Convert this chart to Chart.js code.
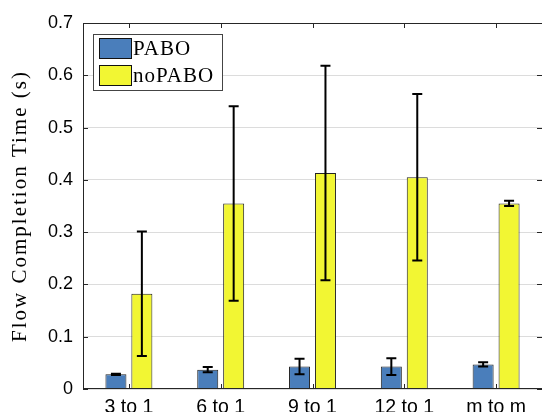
<!DOCTYPE html>
<html>
<head>
<meta charset="utf-8">
<script src="https://cdn.jsdelivr.net/npm/chart.js@4"></script>
<style>
  html, body { margin: 0; padding: 0; background: #fff; }
  #wrap { width: 543px; height: 412px; }
</style>
</head>
<body>
<div id="wrap"><canvas id="fct"></canvas></div>
<script>
// Flow completion time per traffic pattern, mean and spread
const categories = ['3 to 1', '6 to 1', '9 to 1', '12 to 1', 'm to m'];
const paboMean = [0.028, 0.037, 0.043, 0.043, 0.047];
const paboErr = [0.001, 0.005, 0.015, 0.016, 0.004];
const noPaboMean = [0.182, 0.355, 0.413, 0.405, 0.355];
const noPaboErr = [0.119, 0.186, 0.205, 0.159, 0.005];
const yTicks = [0, 0.1, 0.2, 0.3, 0.4, 0.5, 0.6, 0.7];
const yTitle = 'Flow Completion Time (s)';

const BLUE = '#4a7ebb';
const YELLOW = '#f2f633';
const AXIS = '#262626';
const SERIF = '"Liberation Serif", "Times New Roman", serif';
const SANS = '"Liberation Sans", Arial, sans-serif';

// error bars on top of each bar
const errorBars = {
    id: 'errorBars',
    afterDatasetsDraw(chart) {
        const { ctx, scales: { y } } = chart;
        const errs = [paboErr, noPaboErr];
        ctx.save();
        ctx.strokeStyle = '#000';
        ctx.lineWidth = 2;
        chart.data.datasets.forEach((ds, i) => {
            chart.getDatasetMeta(i).data.forEach((bar, j) => {
                const top = y.getPixelForValue(ds.data[j] + errs[i][j]);
                const bot = y.getPixelForValue(ds.data[j] - errs[i][j]);
                ctx.beginPath();
                ctx.moveTo(bar.x, top); ctx.lineTo(bar.x, bot);
                ctx.moveTo(bar.x - 5, top); ctx.lineTo(bar.x + 5, top);
                ctx.moveTo(bar.x - 5, bot); ctx.lineTo(bar.x + 5, bot);
                ctx.stroke();
            });
        });
        ctx.restore();
    }
};

// box outline, inward ticks, y title and the legend inside the plot
const frame = {
    id: 'frame',
    afterDraw(chart) {
        const { ctx, chartArea: a, scales: { x, y } } = chart;
        ctx.save();
        ctx.strokeStyle = AXIS;
        ctx.lineWidth = 1;
        ctx.beginPath();
        ctx.moveTo(a.left, a.top + 0.5); ctx.lineTo(a.right, a.top + 0.5);
        ctx.moveTo(a.left + 0.5, a.top); ctx.lineTo(a.left + 0.5, a.bottom);
        ctx.moveTo(a.left, a.bottom - 0.5); ctx.lineTo(a.right, a.bottom - 0.5);
        yTicks.forEach(v => {
            const py = Math.round(y.getPixelForValue(v)) + 0.5;
            ctx.moveTo(a.left, py); ctx.lineTo(a.left + 5, py);
            ctx.moveTo(a.right, py); ctx.lineTo(a.right - 5, py);
        });
        categories.forEach((c, i) => {
            const px = Math.round(x.getPixelForValue(i)) + 0.5;
            ctx.moveTo(px, a.top); ctx.lineTo(px, a.top + 5);
            ctx.moveTo(px, a.bottom); ctx.lineTo(px, a.bottom - 5);
        });
        ctx.stroke();

        // rotated axis title, a little spaced out
        ctx.save();
        ctx.translate(26, (a.top + a.bottom) / 2);
        ctx.rotate(-Math.PI / 2);
        ctx.font = '21px ' + SERIF;
        ctx.letterSpacing = '2px';
        ctx.fillStyle = '#000';
        ctx.textAlign = 'center';
        ctx.textBaseline = 'alphabetic';
        ctx.fillText(yTitle, 0, 0);
        ctx.restore();

        // legend box
        const lx = a.left + 10, ly = a.top + 11;
        ctx.fillStyle = '#fff';
        ctx.fillRect(lx, ly, 129, 56);
        ctx.strokeStyle = '#444';
        ctx.strokeRect(lx + 0.5, ly + 0.5, 129, 56);
        ctx.font = '21px ' + SERIF;
        ctx.letterSpacing = '1px';
        ctx.textBaseline = 'middle';
        chart.data.datasets.forEach((ds, i) => {
            const sy = ly + 4 + i * 27;
            ctx.fillStyle = ds.backgroundColor;
            ctx.fillRect(lx + 6, sy, 33, 21);
            ctx.strokeStyle = '#111';
            ctx.strokeRect(lx + 6.5, sy + 0.5, 32, 20);
            ctx.fillStyle = '#000';
            ctx.fillText(ds.label, lx + 40, sy + 11);
        });
        ctx.restore();
    }
};

new Chart(document.getElementById('fct'), {
    type: 'bar',
    data: {
        labels: categories,
        datasets: [
            { label: 'PABO', data: paboMean, backgroundColor: BLUE, borderColor: '#222', borderWidth: 1 },
            { label: 'noPABO', data: noPaboMean, backgroundColor: YELLOW, borderColor: '#222', borderWidth: 1 }
        ]
    },
    options: {
        responsive: true,
        maintainAspectRatio: false,
        animation: false,
        devicePixelRatio: 1,
        layout: { padding: { top: 23, right: 1, left: 0, bottom: 0 } },
        datasets: { bar: { categoryPercentage: 0.565, barPercentage: 0.81, borderSkipped: 'bottom' } },
        scales: {
            x: {
                grid: { display: false, drawTicks: false },
                border: { display: false },
                ticks: { color: '#000', font: { family: SANS, size: 19.5 }, padding: 7 },
                afterFit: s => { s.height = 23; }
            },
            y: {
                min: 0, max: 0.7,
                afterBuildTicks: s => { s.ticks = yTicks.map(v => ({ value: v })); },
                grid: { color: '#dcdcdc', drawTicks: false },
                border: { display: false },
                ticks: {
                    color: '#000', padding: 10,
                    font: { family: SANS, size: 18 },
                    callback: v => String(Math.round(v * 10) / 10)
                },
                afterFit: s => { s.width = 83; }
            }
        },
        plugins: { legend: { display: false }, tooltip: { enabled: false } }
    },
    plugins: [errorBars, frame]
});
</script>
</body>
</html>
